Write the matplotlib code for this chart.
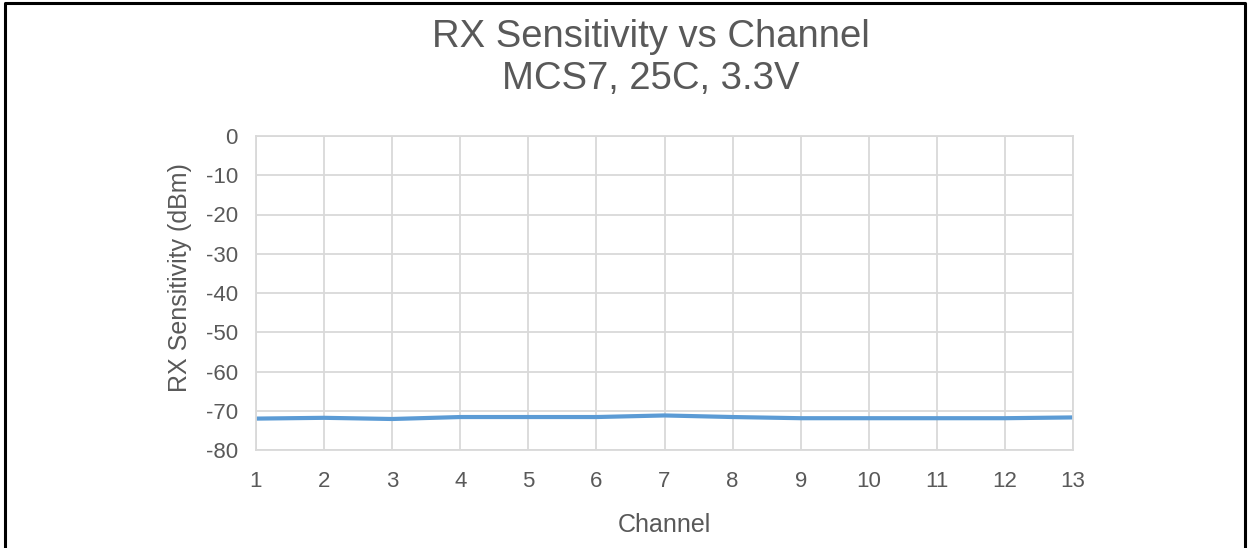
import matplotlib.pyplot as plt
import numpy as np
from matplotlib.lines import Line2D

plt.rcParams['font.family'] = ['Liberation Sans', 'DejaVu Sans']
plt.rcParams['axes.unicode_minus'] = False

channels = [1, 2, 3, 4, 5, 6, 7, 8, 9, 10, 11, 12, 13]
sensitivity = [-72.0, -71.8, -72.1, -71.6, -71.6, -71.6, -71.2, -71.6, -71.9, -71.9, -71.9, -71.9, -71.7]
yticks = [0, -10, -20, -30, -40, -50, -60, -70, -80]

grey = "#595959"

fig = plt.figure(figsize=(12.49, 5.48), dpi=100)
ax = fig.add_axes([256 / 1249, 1 - 450 / 548, (1073 - 256) / 1249, (450 - 136) / 548])

ax.plot(channels, sensitivity, color="#5b9bd5", linewidth=3, solid_capstyle="round")

ax.set_xlim(1, 13)
ax.set_ylim(-80, 0)
ax.set_xticks(channels)
ax.set_yticks(yticks)
ax.grid(color="#d9d9d9", linewidth=1.3)
ax.set_axisbelow(True)
for s in ax.spines.values():
    s.set_color("#d9d9d9")
    s.set_linewidth(1.3)
ax.tick_params(length=0, labelsize=16, labelcolor=grey)
ax.tick_params(axis="y", pad=13)
ax.tick_params(axis="x", pad=15)

ax.set_xlabel("Channel", fontsize=18, color=grey, labelpad=15)
ax.set_ylabel("RX Sensitivity (dBm)", fontsize=18, color=grey, va="center")
ax.yaxis.set_label_coords((180 - 256) / 817, (450 - 278) / 314)

fig.text(651 / 1249, 1 - 37 / 548, "RX Sensitivity vs Channel", ha="center", va="center",
         fontsize=27.5, color=grey)
fig.text(651 / 1249, 1 - 79 / 548, "MCS7, 25C, 3.3V", ha="center", va="center",
         fontsize=27.5, color=grey)

# outer border (left, top, right)
W, H = 1249, 548
fig.add_artist(Line2D([5 / W, 5 / W, 1245 / W, 1245 / W], [0, 1 - 3 / H, 1 - 3 / H, 0],
                      transform=fig.transFigure, color="black", linewidth=2.2))

fig.savefig("out.png", dpi=100)
